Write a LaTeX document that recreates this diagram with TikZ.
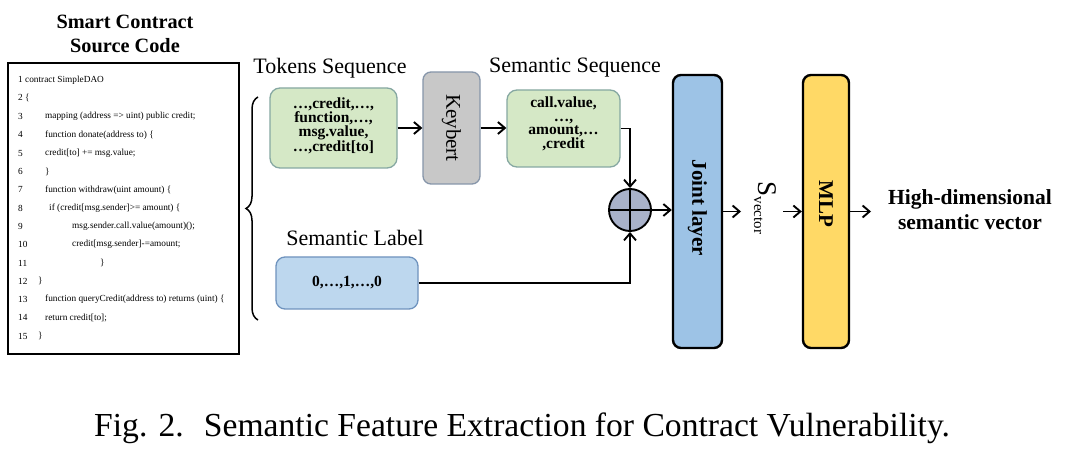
\documentclass[tikz,border=0pt]{standalone}
\usepackage{fontspec}
\setmainfont{Liberation Serif}
\usetikzlibrary{arrows.meta,decorations.pathreplacing}
\definecolor{tokfill}{HTML}{D5E8C6}
\definecolor{tokdraw}{HTML}{86A8A2}
\definecolor{keyfill}{HTML}{C8C8C8}
\definecolor{keydraw}{HTML}{8796AA}
\definecolor{labfill}{HTML}{BDD7EE}
\definecolor{labdraw}{HTML}{6F93BE}
\definecolor{jointfill}{HTML}{9DC3E6}
\definecolor{mlpfill}{HTML}{FFD966}
\definecolor{plusfill}{HTML}{A9B2CA}
\tikzset{
  boxtext/.style={align=center, font=\fontsize{15.5}{13.6}\selectfont\bfseries},
  gbox/.style={draw=tokdraw, fill=tokfill, line width=1.3pt, rounded corners=10pt, inner sep=0pt},
  kbox/.style={draw=keydraw, fill=keyfill, line width=1.3pt, rounded corners=8pt, inner sep=0pt},
  lbox/.style={draw=labdraw, fill=labfill, line width=1.3pt, rounded corners=9pt, inner sep=0pt},
  tallbox/.style={draw=black, line width=2.4pt, rounded corners=8pt, inner sep=0pt, minimum width=#1, minimum height=273},
  arr/.style={line width=1.9pt, -{Straight Barb[length=7pt,width=12pt,line width=1.9pt]}},
  codeline/.style={anchor=west, inner sep=0pt, font=\fontsize{9.3}{11}\selectfont},
  title/.style={inner sep=0pt, font=\fontsize{22}{26}\selectfont},
}
\begin{document}
\begin{tikzpicture}[x=1pt,y=-1pt]
\fill[white] (0,0) rectangle (1080,462);
\useasboundingbox (0,0) rectangle (1080,462);

% title
\node[inner sep=0pt, align=center, font=\fontsize{20.3}{24}\selectfont\bfseries] (srct) at (125,34) {Smart Contract\\Source Code};

% code box
\node[draw=black, line width=1.2pt, minimum width=231, minimum height=291, inner sep=0pt] (code) at (123.5,208.5) {};
\node[codeline] (n1) at (18,80) {1 contract SimpleDAO};
\node[codeline] (n2) at (18,98.3) {2 \{};
\node[codeline] (n3) at (18,116.6) {3};
\node[codeline] (c3) at (45,116.6) {mapping (address => uint) public credit;};
\node[codeline] (n4) at (18,134.9) {4};
\node[codeline] (c4) at (45,134.9) {function donate(address to) \{};
\node[codeline] (n5) at (18,153.2) {5};
\node[codeline] (c5) at (45,153.2) {credit[to] += msg.value;};
\node[codeline] (n6) at (18,171.5) {6};
\node[codeline] (c6) at (45,171.5) {\}};
\node[codeline] (n7) at (18,189.8) {7};
\node[codeline] (c7) at (45,189.8) {function withdraw(uint amount) \{};
\node[codeline] (n8) at (18,208.1) {8};
\node[codeline] (c8) at (49,208.1) {if (credit[msg.sender]>= amount) \{};
\node[codeline] (n9) at (18,226.4) {9};
\node[codeline] (c9) at (72,226.4) {msg.sender.call.value(amount)();};
\node[codeline] (n10) at (18,244.7) {10};
\node[codeline] (c10) at (72,244.7) {credit[msg.sender]-=amount;};
\node[codeline] (n11) at (18,263) {11};
\node[codeline] (c11) at (100,263) {\}};
\node[codeline] (n12) at (18,281.3) {12};
\node[codeline] (c12) at (38,281.3) {\}};
\node[codeline] (n13) at (18,299.6) {13};
\node[codeline] (c13) at (45,299.6) {function queryCredit(address to) returns (uint) \{};
\node[codeline] (n14) at (18,317.9) {14};
\node[codeline] (c14) at (45,317.9) {return credit[to];};
\node[codeline] (n15) at (18,336.2) {15};
\node[codeline] (c15) at (38,336.2) {\}};

% brace
\coordinate (bb) at (258,320);
\coordinate (bt) at (258,97);
\draw[line width=1.5pt, decorate, decoration={brace, amplitude=12pt}] (bb) -- (bt);

% labels
\node[title] (toklab) at (330,68) {Tokens Sequence};
\node[title] (semlab) at (575,68) {Semantic Sequence};
\node[title] (lablab) at (355,238) {Semantic Label};

% boxes
\node[gbox, minimum width=127, minimum height=80] (tok) at (333.5,128) {};
\node[boxtext] (tokt) at (333.5,126) {\ldots,credit,\ldots,\\function,\ldots,\\msg.value,\\\ldots,credit[to]};
\node[kbox, minimum width=57, minimum height=112] (key) at (451.5,128) {};
\node[rotate=-90, inner sep=0pt, font=\fontsize{21}{24}\selectfont] (keyt) at (451.5,128) {Keybert};
\node[gbox, minimum width=113, minimum height=77] (sem) at (563.5,128.5) {};
\node[boxtext] (semt) at (563.5,124) {call.value,\\\ldots,\\amount,\ldots\\,credit};
\node[lbox, minimum width=142, minimum height=52] (lab) at (347,283) {};
\node[boxtext] (labt) at (347,283) {0,\ldots,1,\ldots,0};

% plus
\node[circle, draw=black, fill=plusfill, line width=1.9pt, minimum size=42, inner sep=0pt] (plus) at (630,210) {};
\draw[line width=1.6pt] (plus.north) -- (plus.south) (plus.west) -- (plus.east);

% joint and mlp
\node[tallbox=49, fill=jointfill] (joint) at (697.5,211.5) {};
\node[rotate=-90, inner sep=0pt, font=\fontsize{21}{24}\selectfont\bfseries] (jointt) at (697.5,208) {Joint layer};
\node[tallbox=46, fill=mlpfill] (mlp) at (826,211.5) {};
\node[rotate=-90, inner sep=0pt, font=\fontsize{21}{24}\selectfont\bfseries] (mlpt) at (826,204) {MLP};
\node[rotate=-90, inner sep=0pt] (svec) at (765,208) {\fontsize{27}{30}\selectfont S\raisebox{-4pt}{\fontsize{15}{18}\selectfont vector}};
\node[inner sep=0pt, align=center, font=\fontsize{21.5}{25}\selectfont\bfseries] (hd) at (970,210) {High-dimensional\\semantic vector};

% connectors
\coordinate (j1) at (741,211.5);
\coordinate (m0) at (783,211.5);
\coordinate (m1) at (871,211.5);
\draw[arr] (tok.east) -- (key.west |- tok.east);
\draw[arr] (key.east) -- (sem.west |- key.east);
\draw[arr] (sem.east) -- (sem.east -| plus.north) -- (plus.north);
\draw[arr] (lab.east) -- (lab.east -| plus.south) -- (plus.south);
\draw[arr] (plus.east) -- (joint.west |- plus.east);
\draw[arr] (joint.east) -- (j1);
\draw[arr] (m0) -- (mlp.west);
\draw[arr] (mlp.east) -- (m1);

% caption
\node[anchor=base west, inner sep=0pt, font=\fontsize{33.6}{38}\selectfont] (cap) at (94,437) {Fig. 2.\hspace{0.6em}Semantic Feature Extraction for Contract Vulnerability.};
\end{tikzpicture}
\end{document}
